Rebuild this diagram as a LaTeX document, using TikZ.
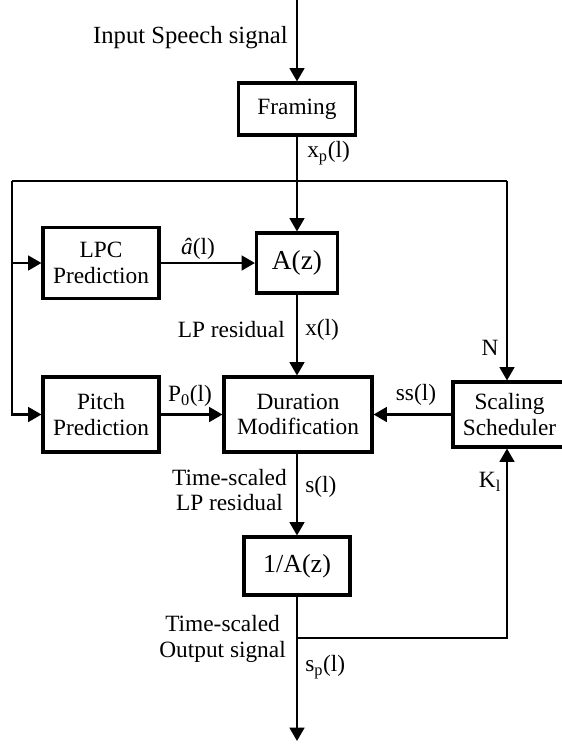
\documentclass[tikz,border=0pt]{standalone}
\usepackage{fontspec}
\setmainfont{Liberation Serif}
\usepackage{tikz}
\usetikzlibrary{arrows.meta,positioning,calc}
\tikzset{
  % Base box
  blk/.style={rectangle,draw,line width=2.3pt,text centered,align=center,
              inner sep=2pt,font=\fontsize{17.5}{19}\selectfont},
  % Arrow
  arr/.style={-{Triangle[length=10pt,width=11pt]},line width=1.9pt},
  % Label style
  lbl/.style={inner sep=0pt,align=center,font=\fontsize{17.5}{19}\selectfont}
}

\begin{document}
\begin{tikzpicture}[x=0.75pt,y=-0.75pt,line width=1.9pt]
  \useasboundingbox (0,0) rectangle (561,746);
  \node[blk,minimum width=117*0.75pt,minimum height=52*0.75pt] (frm) at (297,109)   {Framing};
  \node[blk,minimum width=116*0.75pt,minimum height=71*0.75pt] (lpc) at (101,263)   {LPC\\Prediction};
  \node[blk,minimum width=81*0.75pt, minimum height=60*0.75pt,font=\fontsize{20.5}{22}\selectfont] (az) at (297,263) {A(z)};
  \node[blk,minimum width=116*0.75pt,minimum height=75*0.75pt] (pit) at (101,414.5) {Pitch\\Prediction};
  \node[blk,minimum width=148*0.75pt,minimum height=75*0.75pt] (dur) at (298,414.5) {Duration\\Modification};
  \node[blk,minimum width=113*0.75pt,minimum height=65*0.75pt] (sch) at (509.5,414.5) {Scaling\\Scheduler};
  \node[blk,minimum width=106*0.75pt,minimum height=58*0.75pt,font=\fontsize{19.5}{21}\selectfont] (inv) at (297,566) {1/A(z)};

  \coordinate (in)  at (297,0);
  \coordinate (jl)  at (12,181);
  \coordinate (jr)  at (507,181);
  \coordinate (br)  at (297,638);
  \coordinate (out) at (297,741);

  \node[lbl,anchor=east,font=\fontsize{18.5}{20}\selectfont] (lin) at (289,38) {Input Speech signal};
  \node[lbl,anchor=west] (lxp)  at (306,153) {x\textsubscript{p}(l)};
  \node[lbl]             (lah)  at (198,249) {\textit{â}(l)};
  \node[lbl,anchor=east] (lres) at (286,330) {LP residual};
  \node[lbl,anchor=west] (lx)   at (304,330) {x(l)};
  \node[lbl]             (ln)   at (490,348) {N};
  \node[lbl]             (lp0)  at (190,396) {P\textsubscript{0}(l)};
  \node[lbl]             (lss)  at (416,395) {ss(l)};
  \node[lbl,anchor=east] (ltr)  at (288,490) {Time-scaled\\LP residual};
  \node[lbl,anchor=west] (ls)   at (304,487) {s(l)};
  \node[lbl]             (lk)   at (490,482) {K\textsubscript{l}};
  \node[lbl,anchor=east] (lto)  at (287,639) {Time-scaled\\Output signal};
  \node[lbl,anchor=west] (lsp)  at (304,667) {s\textsubscript{p}(l)};

  \draw[arr](in)--(frm);
  \draw[arr](frm)--(az);
  \draw(jl)--(jr);
  \draw[arr](jl)|-(lpc);
  \draw[arr](jl)|-(pit);
  \draw[arr](jr)--(jr |- sch.north);
  \draw[arr](lpc)--(az);
  \draw[arr](az)--(az |- dur.north);
  \draw[arr](pit)--(dur);
  \draw[arr](sch)--(dur);
  \draw[arr](dur.south -| inv)--(inv);
  \draw[arr](inv)--(out);
  \draw[arr](br)-|(jr |- sch.south);
\end{tikzpicture}
\end{document}
